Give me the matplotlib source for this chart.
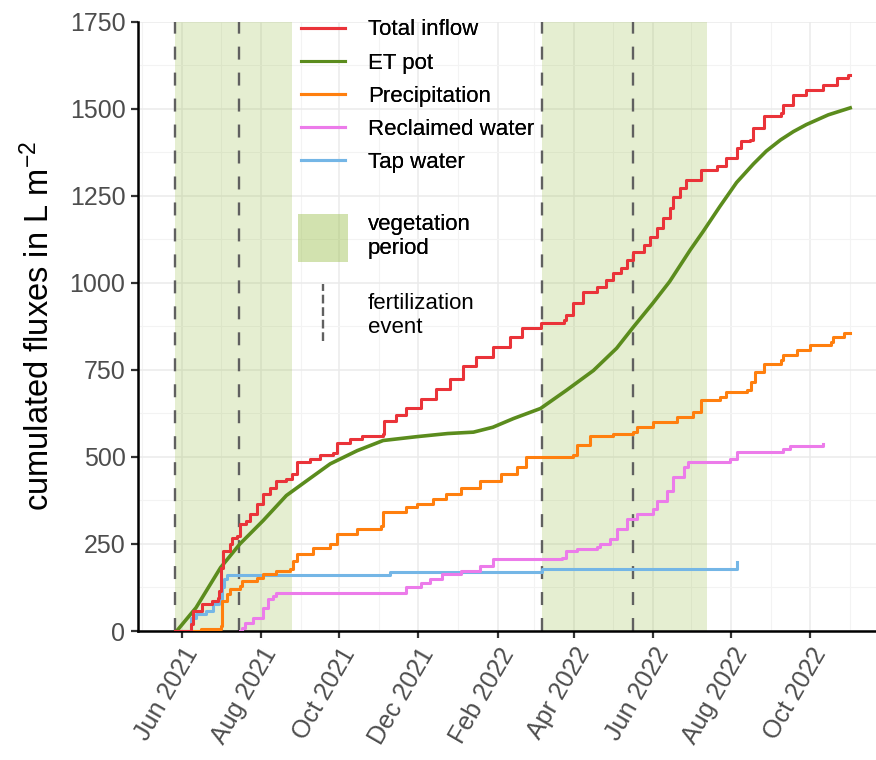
"""
cumulated water fluxes of the lysimeter plot
"""
import pandas as pd
import matplotlib
matplotlib.use('Agg')
import matplotlib.pyplot as plt
import matplotlib.dates as mdates
from matplotlib.lines import Line2D
from matplotlib.patches import Patch
from matplotlib.legend_handler import HandlerBase

plt.rcParams['font.family'] = ['Liberation Sans', 'DejaVu Sans']
plt.rcParams['mathtext.fontset'] = 'custom'
plt.rcParams['mathtext.rm'] = 'Liberation Sans'
plt.rcParams['mathtext.it'] = 'Liberation Sans:italic'

# days after 1 June 2021 and cumulated values in L m-2
START = pd.Timestamp('2021-06-01')

total_days = [-5, 7, 9, 15, 16, 23, 28, 29, 30, 32, 37, 39, 43, 45, 50, 53, 58, 63, 68, 73,
              81, 85, 89, 99, 107, 117, 120, 130, 140, 156, 157, 166, 174, 185, 197, 208, 218, 228, 241, 254,
              264, 278, 296, 298, 303, 311, 322, 329, 334, 340, 345, 350, 358, 363, 368, 373, 378, 381, 386, 391,
              402, 415, 422, 430, 433, 440, 443, 451, 464, 466, 474, 484, 497, 508, 516, 518]
total_inflow = [0, 19, 58, 58, 77, 86, 95, 115, 182, 230, 250, 268, 273, 308, 317, 337, 365, 394, 412, 432,
                437, 452, 484, 495, 504, 512, 541, 552, 561, 567, 604, 619, 640, 665, 695, 725, 760, 787, 815, 844,
                869, 883, 892, 907, 941, 973, 987, 1007, 1027, 1042, 1065, 1088, 1108, 1131, 1157, 1186, 1215, 1247, 1272, 1295,
                1324, 1334, 1359, 1387, 1406, 1410, 1445, 1478, 1487, 1511, 1540, 1554, 1569, 1588, 1597, 1597]

et_days = [-4, 11, 30, 45, 63, 81, 97, 115, 136, 156, 182, 206, 226, 241, 257, 278, 298, 319, 337, 350,
           365, 378, 394, 404, 417, 430, 443, 453, 464, 474, 484, 501, 518]
et_pot = [0, 67, 182, 250, 317, 389, 432, 480, 518, 547, 558, 567, 571, 585, 610, 639, 691, 748, 812, 873,
          941, 1003, 1094, 1147, 1219, 1288, 1341, 1378, 1410, 1434, 1454, 1482, 1502]

precip_days = [-5, 15, 30, 31, 35, 37, 45, 47, 58, 63, 73, 84, 86, 89, 102, 115, 120, 136, 154, 156, 174,
               182, 195, 205, 216, 231, 247, 260, 267, 303, 306, 316, 334, 350, 353, 365, 384, 396, 402, 417, 422,
               438, 441, 444, 451, 464, 466, 477, 487, 503, 505, 513, 518]
precipitation = [0, 6, 14, 86, 106, 121, 130, 144, 153, 164, 173, 178, 201, 221, 239, 250, 279, 294, 302, 341, 355,
                 365, 380, 394, 412, 432, 451, 470, 499, 504, 533, 561, 567, 571, 585, 600, 614, 629, 662, 672, 686,
                 691, 714, 743, 768, 777, 792, 806, 820, 830, 844, 855, 855]

reclaimed_days = [45, 47, 49, 55, 63, 67, 71, 73, 171, 174, 185, 192, 202, 216, 231, 241, 295, 298, 306, 322,
                  324, 332, 337, 345, 353, 365, 368, 376, 381, 389, 392, 425, 430, 466, 471, 497]
reclaimed = [0, 10, 24, 38, 67, 92, 101, 110, 110, 125, 139, 150, 164, 173, 187, 207, 211, 230, 235, 240,
             250, 264, 293, 322, 336, 350, 374, 403, 441, 470, 484, 494, 513, 523, 532, 537]

tap_days = [-4, 7, 11, 19, 24, 29, 31, 33, 35, 161, 279, 430]
tap_water = [0, 38, 48, 58, 77, 92, 125, 150, 161, 170, 179, 197]

veg_start = ['2021-05-27', '2022-03-07']
veg_end = ['2021-08-25', '2022-07-13']
fert_dates = ['2021-05-27', '2021-07-15', '2022-03-07', '2022-05-17']


def to_dates(days):
    return START + pd.to_timedelta(days, unit='D')


class HandlerVLine(HandlerBase):
    # vertical dashed key for the fertilization events
    def create_artists(self, legend, orig_handle, xdescent, ydescent, width, height, fontsize, trans):
        x = width / 2 - xdescent
        line = Line2D([x, x], [-ydescent + 2, height - ydescent + 5], color=orig_handle.get_color(),
                      lw=orig_handle.get_linewidth(), linestyle=orig_handle.get_linestyle())
        line.set_transform(trans)
        return [line]


fig = plt.figure(figsize=(8.76, 7.6), dpi=100)
ax = fig.add_axes([0.1575, 0.1697, 0.8425, 0.802])

for s, e in zip(veg_start, veg_end):
    ax.axvspan(pd.Timestamp(s), pd.Timestamp(e), color='#9bbf4b', alpha=0.25, lw=0, zorder=1)

for d in fert_dates:
    ax.axvline(pd.Timestamp(d), color='#606060', lw=1.7, linestyle=(0, (5.5, 5.5)), zorder=2)

lw = 2.2
ax.plot(to_dates(tap_days), tap_water, color='#74b6e6', lw=lw, drawstyle='steps-post', zorder=3)
ax.plot(to_dates(reclaimed_days), reclaimed, color='#ec7bea', lw=lw, drawstyle='steps-post', zorder=3)
ax.plot(to_dates(precip_days), precipitation, color='#ff7f0e', lw=lw, drawstyle='steps-post', zorder=3)
ax.plot(to_dates(et_days), et_pot, color='#5b8c1d', lw=2.6, zorder=3)
ax.plot(to_dates(total_days), total_inflow, color='#ea3339', lw=lw, drawstyle='steps-post', zorder=4)

ax.set_xlim(pd.Timestamp('2021-04-28'), pd.Timestamp('2022-11-21'))
ax.set_ylim(0, 1750)
ax.set_yticks(range(0, 1751, 250))
ax.set_yticks(range(125, 1750, 250), minor=True)

ax.xaxis.set_major_locator(mdates.MonthLocator(bymonth=[2, 4, 6, 8, 10, 12]))
ax.xaxis.set_major_formatter(mdates.DateFormatter('%b %Y'))
ax.xaxis.set_minor_locator(mdates.MonthLocator(bymonth=[1, 3, 5, 7, 9, 11]))

ax.grid(which='major', color='#ebebeb', lw=1.1, zorder=0)
ax.grid(which='minor', color='#f3f3f3', lw=0.8, zorder=0)
ax.set_axisbelow(True)

for side in ['top', 'right']:
    ax.spines[side].set_visible(False)
for side in ['left', 'bottom']:
    ax.spines[side].set_linewidth(1.8)
    ax.spines[side].set_color('black')

ax.tick_params(which='major', length=5, width=1.6, color='#333333', labelsize=18, labelcolor='#4d4d4d', pad=4)
ax.tick_params(which='minor', length=0)
for lab in ax.get_xticklabels():
    lab.set_rotation(60)
    lab.set_ha('right')
    lab.set_va('top')
    lab.set_rotation_mode('anchor')

ax.set_ylabel('cumulated fluxes in L m$^{-2}$', fontsize=23.5, labelpad=10)

# legends
fs = 16
line_handles = [Line2D([], [], color='#ea3339', lw=lw),
                Line2D([], [], color='#5b8c1d', lw=lw),
                Line2D([], [], color='#ff7f0e', lw=lw),
                Line2D([], [], color='#ec7bea', lw=lw),
                Line2D([], [], color='#74b6e6', lw=lw)]
line_labels = ['Total inflow', 'ET pot', 'Precipitation', 'Reclaimed water', 'Tap water']
leg1 = fig.legend(line_handles, line_labels, loc='upper left', bbox_to_anchor=(0.3436, 0.9745),
                  frameon=False, fontsize=fs, handlelength=2.0, handletextpad=1.0,
                  labelspacing=0.55, borderpad=0, borderaxespad=0)

veg_patch = Patch(facecolor='#9bbf4b', alpha=0.25, edgecolor='none')
leg2 = fig.legend([veg_patch], ['vegetation\nperiod'], loc='upper left', bbox_to_anchor=(0.340, 0.7184),
                  frameon=False, fontsize=fs, handlelength=2.25, handleheight=2.9, handletextpad=0.9,
                  borderpad=0, borderaxespad=0)

fert_handle = Line2D([], [], color='#606060', lw=1.7, linestyle=(0, (5.5, 5.5)))
leg3 = fig.legend([fert_handle], ['fertilization\nevent'], loc='upper left', bbox_to_anchor=(0.3436, 0.6171),
                  frameon=False, fontsize=fs, handlelength=2.0, handleheight=3.3, handletextpad=1.0,
                  borderpad=0, borderaxespad=0, handler_map={Line2D: HandlerVLine()})
fig.add_artist(leg1)
fig.add_artist(leg2)

fig.savefig('out.png', dpi=100)
